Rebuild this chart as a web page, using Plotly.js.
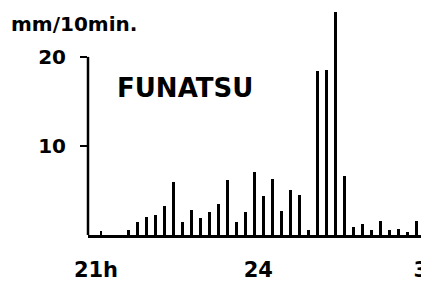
<!DOCTYPE html>
<html>
<head>
<meta charset="utf-8">
<script src="https://cdn.plot.ly/plotly-3.0.1.min.js"></script>
<style>html,body{margin:0;padding:0;background:#fff;}#chart{width:421px;height:281px;}</style>
</head>
<body>
<div id="chart"></div>
<script>
// minutes after 21:00 (end of each 10-minute interval)
const minutes = [10,20,30,40,50,60,70,80,90,100,110,120,130,140,150,160,170,180,
                 190,200,210,220,230,240,250,260,270,280,290,300,310,320,330,340,350,360];
// rainfall, mm per 10 min
const rain = [0.5,0,0,0.6,1.5,2.0,2.2,3.3,5.9,1.5,2.8,1.9,2.6,3.5,6.2,1.5,2.6,7.1,
              4.4,6.3,2.7,5.1,4.5,0.6,18.4,18.5,25.0,6.6,0.9,1.2,0.6,1.6,0.6,0.7,0.3,1.6];
const xTickVals = [0, 180, 360];
const xTickText = ['21h', '24', '3'];
const yTickVals = [10, 20];
const yTickText = ['10', '20'];
const stationName = 'FUNATSU';
const unitLabel = 'mm/10min.';

const boldFont = {family: 'DejaVu Sans', weight: 'bold', color: '#000'};

const trace = {
  type: 'bar',
  x: minutes,
  y: rain,
  width: 3.3,
  marker: {color: '#000', line: {width: 0}},
  hoverinfo: 'skip'
};

const layout = {
  width: 421, height: 281,
  margin: {l: 88, r: 0, t: 8, b: 45.5, pad: 0},
  paper_bgcolor: '#fff', plot_bgcolor: '#fff',
  showlegend: false,
  bargap: 0,
  title: {
    text: unitLabel,
    font: Object.assign({size: 20}, boldFont),
    x: 11/421, xref: 'container', xanchor: 'left',
    y: 1 - 24/281, yref: 'container', yanchor: 'middle'
  },
  xaxis: {
    range: [-4.4, 364.7],
    showgrid: false, zeroline: false,
    showline: true, linecolor: '#000', linewidth: 2.5,
    tickvals: xTickVals, ticktext: xTickText,
    ticks: '',
    tickfont: Object.assign({size: 21}, boldFont),
    ticklabelstandoff: 14,
    ticklabelshift: 4,
    ticklabeloverflow: 'allow'
  },
  yaxis: {
    range: [0, 25.49],
    showgrid: false, zeroline: false, showline: false,
    tickvals: yTickVals, ticktext: yTickText,
    ticks: 'outside', ticklen: 7, tickwidth: 2.5, tickcolor: '#000',
    tickfont: Object.assign({size: 20}, boldFont),
    ticklabelstandoff: 10
  },
  shapes: [{
    type: 'line', xref: 'paper', yref: 'y',
    x0: 0, x1: 0, y0: 0, y1: yTickVals[yTickVals.length - 1],
    line: {color: '#000', width: 2.5}
  }],
  annotations: [{
    text: stationName, xref: 'paper', yref: 'paper',
    x: (115 - 88) / 333, y: (227.5 - (88.5 - 8)) / 227.5,
    xanchor: 'left', yanchor: 'middle', showarrow: false,
    font: Object.assign({size: 26}, boldFont)
  }]
};

Plotly.newPlot('chart', [trace], layout, {staticPlot: true, displayModeBar: false});
</script>
</body>
</html>
